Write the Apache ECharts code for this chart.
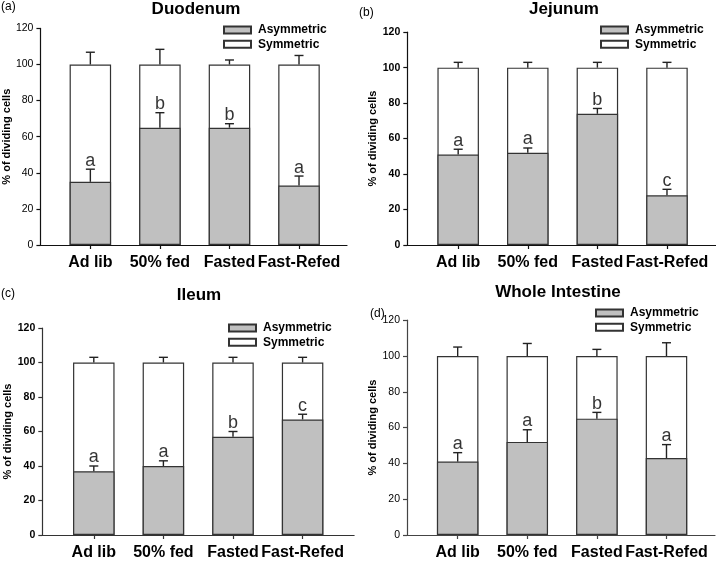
<!DOCTYPE html>
<html>
<head>
<meta charset="utf-8">
<script src="https://cdn.jsdelivr.net/npm/echarts@6/dist/echarts.min.js"></script>
<style>html,body{margin:0;padding:0;background:#fff}#c{width:716px;height:561px}</style>
</head>
<body>
<div id="c"></div>
<script>
const categories = ['Ad lib', '50% fed', 'Fasted', 'Fast-Refed'];
const yTicks = [0, 20, 40, 60, 80, 100, 120];

const duoAsym = [35, 65, 65, 33];
const duoSym = [65, 35, 35, 67];
const duoAsymErr = [7, 8.3, 2.2, 5.2];
const duoSymErr = [6.8, 8.4, 2.5, 5];
const duoLetters = ['a', 'b', 'b', 'a'];

const jejAsym = [51, 52, 74, 28];
const jejSym = [49, 48, 26, 72];
const jejAsymErr = [3, 2.7, 3, 3.4];
const jejSymErr = [3, 3, 3, 3];
const jejLetters = ['a', 'a', 'b', 'c'];

const ileAsym = [37, 40, 57, 67];
const ileSym = [63, 60, 43, 33];
const ileAsymErr = [3, 3, 3, 3];
const ileSymErr = [3, 3, 3, 3];
const ileLetters = ['a', 'a', 'b', 'c'];

const whoAsym = [41, 52, 65, 43];
const whoSym = [59, 48, 35, 57];
const whoAsymErr = [5, 6.8, 3.5, 7.5];
const whoSymErr = [5, 7, 3.7, 7.4];
const whoLetters = ['a', 'a', 'b', 'a'];

const panels = [
  {title: 'Duodenum', tag: '(a)', asym: duoAsym, sym: duoSym, ae: duoAsymErr, se: duoSymErr, letters: duoLetters,
   grid: {left: 40, top: 28.4, width: 307, height: 216.6}, xmin: -0.718, xmax: 3.69, axisColor: '#111', tickBold: 'normal',
   titleX: 196, titleY: 1, tagX: 1, tagY: 1, legX: 223, legY: 24, nameGap: 27},
  {title: 'Jejunum', tag: '(b)', asym: jejAsym, sym: jejSym, ae: jejAsymErr, se: jejSymErr, letters: jejLetters,
   grid: {left: 407.3, top: 32.2, width: 308.4, height: 212.8}, xmin: -0.731, xmax: 3.7, axisColor: '#111', tickBold: 'bold',
   titleX: 564, titleY: 1, tagX: 359, tagY: 7, legX: 600, legY: 24, nameGap: 28},
  {title: 'Ileum', tag: '(c)', asym: ileAsym, sym: ileSym, ae: ileAsymErr, se: ileSymErr, letters: ileLetters,
   grid: {left: 42.3, top: 328, width: 311.8, height: 207}, xmin: -0.74, xmax: 3.74, axisColor: '#333', tickBold: 'bold',
   titleX: 199, titleY: 287, tagX: 1, tagY: 288, legX: 228, legY: 322, nameGap: 29},
  {title: 'Whole Intestine', tag: '(d)', asym: whoAsym, sym: whoSym, ae: whoAsymErr, se: whoSymErr, letters: whoLetters,
   grid: {left: 407, top: 320.2, width: 308, height: 214.8}, xmin: -0.728, xmax: 3.697, axisColor: '#444', tickBold: 'normal',
   titleX: 558, titleY: 284, tagX: 370, tagY: 308, legX: 595, legY: 307, nameGap: 28}
];

const FONT = '"Liberation Sans", Arial, Helvetica, sans-serif';
const idx = [0, 1, 2, 3];

function renderErr(params, api) {
  const x = api.value(0), b = api.value(1), e = api.value(2);
  const p0 = api.coord([x, b]);
  const p1 = api.coord([x, b + e]);
  const st = {stroke: '#222', lineWidth: 1.4};
  return {type: 'group', children: [
    {type: 'line', shape: {x1: p0[0], y1: p0[1], x2: p1[0], y2: p1[1]}, style: st},
    {type: 'line', shape: {x1: p1[0] - 4.5, y1: p1[1], x2: p1[0] + 4.5, y2: p1[1]}, style: st}
  ]};
}

const option = {
  animation: false,
  backgroundColor: '#fff',
  title: [], legend: [], grid: [], xAxis: [], yAxis: [], series: []
};

panels.forEach((p, k) => {
  option.title.push({text: p.title, left: p.titleX, top: p.titleY, textAlign: 'center', padding: 0,
    textStyle: {fontFamily: FONT, fontSize: 17, fontWeight: 'bold', color: '#000'}});
  option.title.push({text: p.tag, left: p.tagX, top: p.tagY, padding: 0,
    textStyle: {fontFamily: FONT, fontSize: 12, fontWeight: 'normal', color: '#000'}});
  option.legend.push({data: ['Asymmetric', 'Symmetric'], orient: 'vertical', left: p.legX, top: p.legY, padding: 0,
    itemWidth: 27, itemHeight: 7, itemGap: 2.3, icon: 'rect', selectedMode: false,
    textStyle: {fontFamily: FONT, fontSize: 12, fontWeight: 'bold', color: '#000', lineHeight: 12, padding: [0, 0, 0, 2]}});
  option.grid.push(Object.assign({containLabel: false}, p.grid));
  option.xAxis.push({type: 'value', gridIndex: k, min: p.xmin, max: p.xmax,
    axisLine: {show: true, onZero: false, lineStyle: {color: p.axisColor, width: 1.2}},
    axisTick: {show: true, length: 4, customValues: idx, lineStyle: {color: p.axisColor, width: 1.2}},
    axisLabel: {show: true, customValues: idx, margin: 10, formatter: v => categories[Math.round(v)] || '',
      fontFamily: FONT, fontSize: 16, fontWeight: 'bold', color: '#000'},
    splitLine: {show: false}});
  option.yAxis.push({type: 'value', gridIndex: k, min: yTicks[0], max: yTicks[yTicks.length - 1], interval: 20,
    name: '% of dividing cells', nameLocation: 'middle', nameGap: p.nameGap,
    nameTextStyle: {fontFamily: FONT, fontSize: 11, fontWeight: 'bold', color: '#000'},
    axisLine: {show: true, onZero: false, lineStyle: {color: p.axisColor, width: 1.2}},
    axisTick: {show: true, length: 4, lineStyle: {color: p.axisColor, width: 1.2}},
    axisLabel: {margin: 7, fontFamily: FONT, fontSize: 10.5, fontWeight: p.tickBold, color: '#000'},
    splitLine: {show: false}});
  // Symmetric sits on top of Asymmetric: drawn as the full stacked column behind the grey part
  option.series.push({name: 'Symmetric', type: 'bar', xAxisIndex: k, yAxisIndex: k, barWidth: 41.5, barGap: '-100%', z: 2,
    data: idx.map(i => [i, p.asym[i] + p.sym[i]]),
    itemStyle: {color: '#ffffff', borderColor: '#333', borderWidth: 1.2}});
  option.series.push({name: 'Asymmetric', type: 'bar', xAxisIndex: k, yAxisIndex: k, barWidth: 41.5, barGap: '-100%', z: 3,
    data: idx.map(i => [i, p.asym[i]]),
    itemStyle: {color: '#c0c0c0', borderColor: '#333', borderWidth: 1.2}});
  option.series.push({name: 'errA' + k, type: 'custom', xAxisIndex: k, yAxisIndex: k, clip: false, z: 5,
    renderItem: renderErr, encode: {x: 0, y: 1},
    data: idx.map(i => [i, p.asym[i], p.ae[i]])});
  option.series.push({name: 'errS' + k, type: 'custom', xAxisIndex: k, yAxisIndex: k, clip: false, z: 5,
    renderItem: renderErr, encode: {x: 0, y: 1},
    data: idx.map(i => [i, p.asym[i] + p.sym[i], p.se[i]])});
  option.series.push({name: 'lbl' + k, type: 'scatter', xAxisIndex: k, yAxisIndex: k, symbolSize: 1, z: 6,
    itemStyle: {color: 'rgba(0,0,0,0)'}, silent: true,
    data: idx.map(i => [i, p.asym[i] + p.ae[i]]),
    label: {show: true, position: 'top', distance: -1, formatter: (d) => p.letters[d.dataIndex],
      fontFamily: FONT, fontSize: 18, color: '#000'}});
});

const chart = echarts.init(document.getElementById('c'), null, {renderer: 'canvas'});
chart.setOption(option);
</script>
</body>
</html>
